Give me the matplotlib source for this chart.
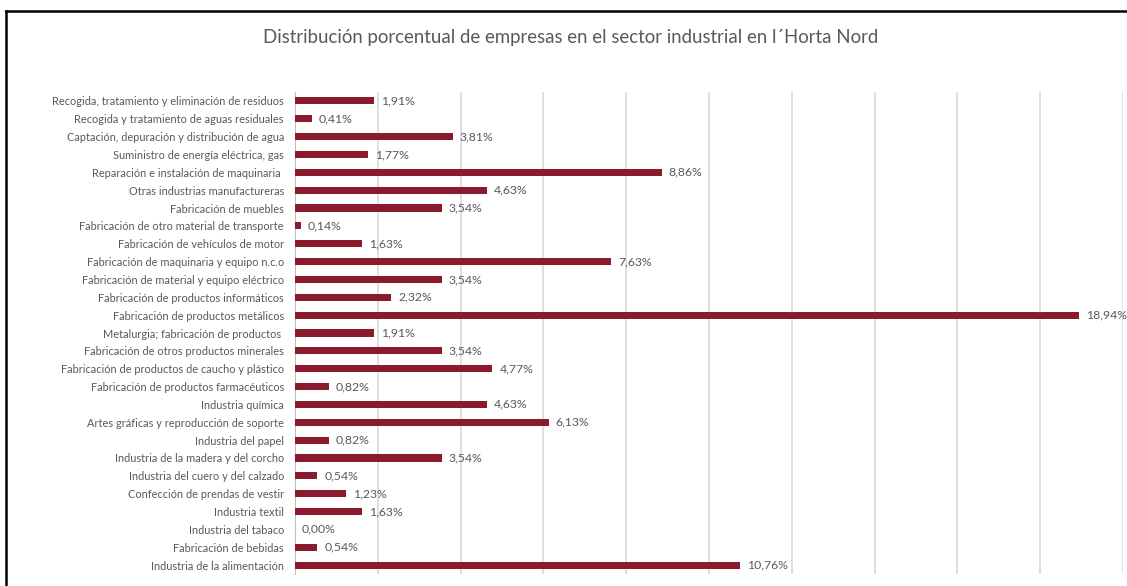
import matplotlib.pyplot as plt
from matplotlib.lines import Line2D

    #========= DATA ======================================================#

CATEGORIES = [
    "Recogida, tratamiento y eliminación de residuos",
    "Recogida y tratamiento de aguas residuales",
    "Captación, depuración y distribución de agua",
    "Suministro de energía eléctrica, gas",
    "Reparación e instalación de maquinaria ",
    "Otras industrias manufactureras",
    "Fabricación de muebles",
    "Fabricación de otro material de transporte",
    "Fabricación de vehículos de motor",
    "Fabricación de maquinaria y equipo n.c.o",
    "Fabricación de material y equipo eléctrico",
    "Fabricación de productos informáticos",
    "Fabricación de productos metálicos",
    "Metalurgia; fabricación de productos ",
    "Fabricación de otros productos minerales",
    "Fabricación de productos de caucho y plástico",
    "Fabricación de productos farmacéuticos",
    "Industria química",
    "Artes gráficas y reproducción de soporte",
    "Industria del papel",
    "Industria de la madera y del corcho",
    "Industria del cuero y del calzado",
    "Confección de prendas de vestir",
    "Industria textil",
    "Industria del tabaco",
    "Fabricación de bebidas",
    "Industria de la alimentación",
]

PERCENTAGES = [1.91, 0.41, 3.81, 1.77, 8.86, 4.63, 3.54, 0.14, 1.63, 7.63,
               3.54, 2.32, 18.94, 1.91, 3.54, 4.77, 0.82, 4.63, 6.13, 0.82,
               3.54, 0.54, 1.23, 1.63, 0.00, 0.54, 10.76]

TITLE = "Distribución porcentual de empresas en el sector industrial en l´Horta Nord"

    #========= STYLE =====================================================#

BAR_COLOR = "#8b1a2e"
TEXT_COLOR = "#595959"
GRID_COLOR = "#d9d9d9"

plt.rcParams["font.family"] = ["Lato", "DejaVu Sans"]

    #========= FIGURE ====================================================#

fig = plt.figure(figsize=(11.27, 5.86), dpi=100)
ax = fig.add_axes([295/1127, 1-574/586, (1123-295)/1127, (574-92)/586])

y = list(range(len(CATEGORIES)))
ax.barh(y, PERCENTAGES, height=0.4, color=BAR_COLOR, zorder=3)
for yi, v in zip(y, PERCENTAGES):
    ax.text(v + 0.17, yi, ("%.2f%%" % v).replace(".", ","), va="center", ha="left",
            fontsize=8.8, color=TEXT_COLOR)

ax.set_xlim(0, 20)
ax.set_ylim(len(CATEGORIES) - 0.5, -0.5)
ax.set_xticks(range(0, 21, 2))
ax.xaxis.grid(True, color=GRID_COLOR, linewidth=1.2, zorder=0)
ax.tick_params(axis="x", length=0, labelbottom=False)
ax.tick_params(axis="y", length=0, pad=8, labelsize=7.9, labelcolor=TEXT_COLOR)
ax.set_yticks(y)
ax.set_yticklabels(CATEGORIES)
for side in ["top", "right", "bottom"]:
    ax.spines[side].set_visible(False)
ax.spines["left"].set_color("#bfbfbf")

fig.text(571/1127, 1-38/586, TITLE, ha="center", va="center", fontsize=13.4, color=TEXT_COLOR)

# chart frame (cut at the bottom)
fig.add_artist(Line2D([6/1127, 6/1127], [0, 1-11/586], transform=fig.transFigure, color="black", linewidth=1.8))
fig.add_artist(Line2D([6/1127, 1], [1-11/586, 1-11/586], transform=fig.transFigure, color="black", linewidth=1.8))

fig.savefig("out.png", dpi=100)
